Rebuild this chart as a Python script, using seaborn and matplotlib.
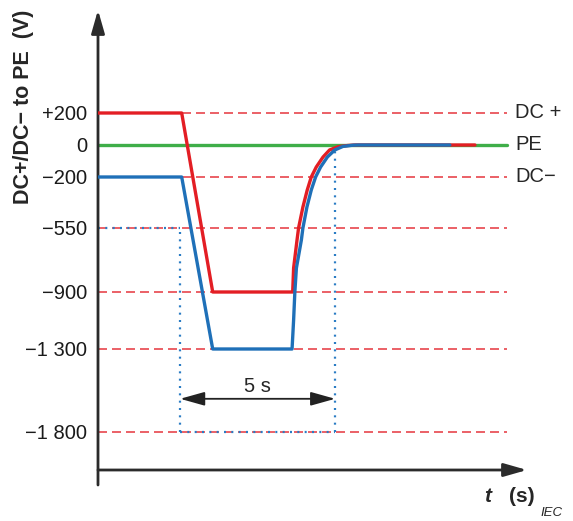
import matplotlib
matplotlib.use("Agg")
import matplotlib.pyplot as plt
import seaborn as sns
import numpy as np

# voltage levels shown on the y axis and their labels
levels = [-1800, -1300, -900, -550, -200, 0, 200]
level_labels = ["\u22121 800", "\u22121 300", "\u2212900", "\u2212550", "\u2212200", "0", "+200"]

# DC+ trace (time in s, volts)
t_dcp = [0.0, 2.7, 3.7, 6.28, 6.31, 6.42, 6.47, 6.61, 6.75, 6.88, 7.04, 7.26, 7.47, 7.74, 8.06, 8.3, 12.16]
v_dcp = [200, 200, -900, -900, -769, -616, -550, -406, -289, -200, -138, -75, -31, -11, -3, 0, 0]

# DC- trace
t_dcm = [0.0, 2.7, 3.7, 6.26, 6.31, 6.35, 6.40, 6.56, 6.61, 6.74, 6.88, 7.02, 7.18, 7.40, 7.64, 7.90, 8.23, 8.4, 11.35]
v_dcm = [-200, -200, -1300, -1300, -1097, -900, -769, -616, -550, -406, -289, -200, -138, -75, -31, -9, -1, 0, 0]

# PE trace
t_pe = [0.0, 13.2]
v_pe = [0, 0]

# reference dashed levels: (value, start time)
ref_levels = [200, -200, -550, -900, -1300, -1800]
ref_start = [2.7, 2.7, 0.0, 0.0, 0.0, 0.0]
ref_end = 13.2

# 5 s window
win_start, win_end = 2.65, 7.65
win_top = -40
arrow_level = -1600
text_level = -1525

right_labels = ["DC +", "PE", "DC\u2212"]
right_values = [200, 0, -200]

# nonlinear drawing scale (axis positions of each level)
scale_pos = np.array([-432, -349, -292, -228, -177, -145, -113], dtype=float)
scale_val = np.array(levels, dtype=float)


def _pl(x, xp, fp):
    x = np.asarray(x, dtype=float)
    y = np.interp(x, xp, fp)
    lo = x < xp[0]
    hi = x > xp[-1]
    y = np.where(lo, fp[0] + (x - xp[0]) * (fp[1] - fp[0]) / (xp[1] - xp[0]), y)
    y = np.where(hi, fp[-1] + (x - xp[-1]) * (fp[-1] - fp[-2]) / (xp[-1] - xp[-2]), y)
    return y


def fwd(v):
    return _pl(v, scale_val, scale_pos)


def inv(p):
    return _pl(p, scale_pos, scale_val)


sns.set_style("white")
plt.rcParams["font.family"] = ["Liberation Sans", "DejaVu Sans"]

red = "#e31e24"
blue = "#1f70b8"
green = "#3fae49"
ref_red = "#e8464d"

fig = plt.figure(figsize=(5.73, 5.21), dpi=100)
ax = fig.add_axes([98 / 573, 1 - 485 / 521, (527 - 98) / 573, (485 - 10) / 521])
ax.set_yscale("function", functions=(fwd, inv))
ax.set_xlim(0, (527 - 98) / 31)
ax.set_ylim(float(inv(-485)), float(inv(-10)))

for v, s in zip(ref_levels, ref_start):
    ax.hlines(v, s, ref_end, color=ref_red, lw=1.2, linestyle=(0, (5.4, 3.0)), zorder=1)

dot = dict(color="#2a7cc4", lw=1.6, linestyle=(0, (0.9, 2.4)), zorder=2)
ax.hlines(-550, 0, win_start, **dot)
ax.hlines(-1800, win_start, win_end, **dot)
ax.vlines(win_start, -1800, -550, **dot)
ax.vlines(win_end, -1800, win_top, **dot)

line_kw = dict(lw=2.4, ax=ax, sort=False, estimator=None, solid_joinstyle="round")
sns.lineplot(x=t_pe, y=v_pe, color=green, zorder=3, **line_kw)
sns.lineplot(x=t_dcp, y=v_dcp, color=red, zorder=4, **line_kw)
sns.lineplot(x=t_dcm, y=v_dcm, color=blue, zorder=5, **line_kw)

ax.annotate("", xy=(win_start, arrow_level), xytext=(win_end, arrow_level),
            arrowprops=dict(arrowstyle="<|-|>,head_length=1.5,head_width=0.42",
                            mutation_scale=10, color="#222222", lw=1.3,
                            shrinkA=0, shrinkB=0))
ax.text((win_start + win_end) / 2, text_level, "5 s", ha="center", va="center", fontsize=14.5)

for lab, v in zip(right_labels, right_values):
    ax.text(13.45, v, lab, ha="left", va="center", fontsize=14.5, clip_on=False)

# axes with arrows
for s in ax.spines.values():
    s.set_visible(False)
xf = 15 / 475
ax.annotate("", xy=(1, xf), xytext=(0, xf), xycoords="axes fraction",
            arrowprops=dict(arrowstyle="-|>,head_length=1.4,head_width=0.4",
                            mutation_scale=10, color="#2b2b2b", lw=2.0,
                            shrinkA=0, shrinkB=0))
ax.annotate("", xy=(0, 1), xytext=(0, 0), xycoords="axes fraction",
            arrowprops=dict(arrowstyle="-|>,head_length=1.4,head_width=0.4",
                            mutation_scale=10, color="#2b2b2b", lw=2.0,
                            shrinkA=0, shrinkB=0))

ax.set_xticks([])
ax.set_yticks(levels, level_labels)
ax.minorticks_off()
ax.tick_params(axis="y", length=0, pad=8, labelsize=14.5, colors="#1a1a1a")
ax.set_xlabel("")
ax.set_ylabel("")

fig.text(24 / 573, 1 - 10 / 521, "DC+/DC\u2212 to PE  (V)", rotation=90, ha="center", va="top",
         fontsize=15.5, fontweight="bold")
fig.text(484 / 573, 1 - 497 / 521, "t", style="italic", fontweight="bold", ha="left", va="center",
         fontsize=15)
fig.text(509 / 573, 1 - 497 / 521, "(s)", fontweight="bold", ha="left", va="center", fontsize=15)
fig.text(540 / 573, 1 - 513 / 521, "IEC", style="italic", ha="left", va="center", fontsize=9.5)

fig.savefig("out.png", dpi=100)
